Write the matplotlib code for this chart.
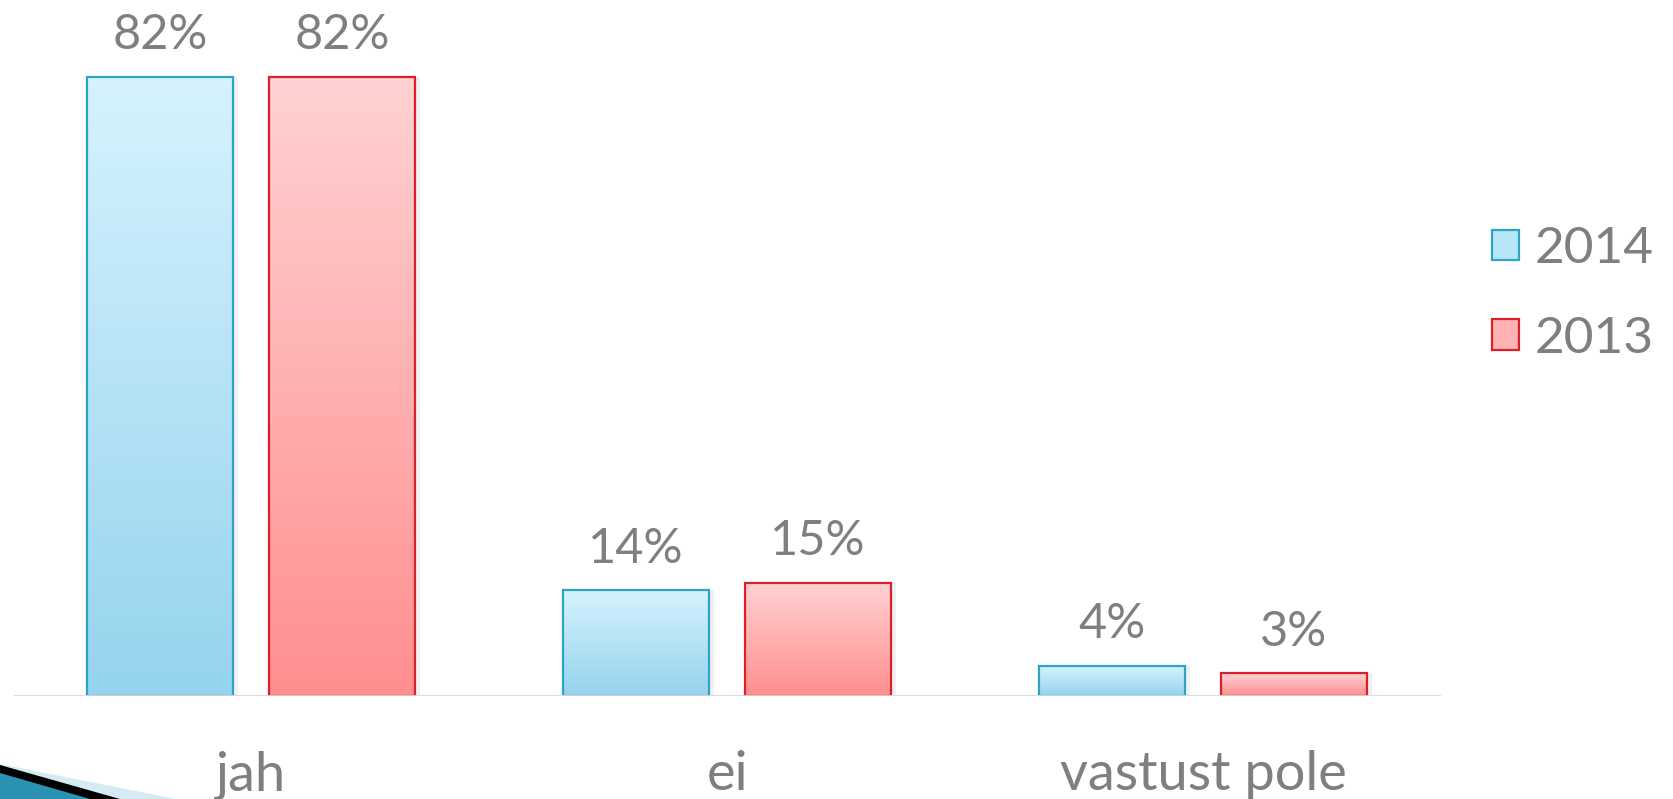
import matplotlib.pyplot as plt
import numpy as np
from matplotlib.colors import LinearSegmentedColormap
from matplotlib.patches import Patch, Polygon

# data
categories = ["jah", "ei", "vastust pole"]
series = ["2014", "2013"]
values_2014 = [82, 14, 4]
values_2013 = [82, 15, 3]

plt.rcParams['font.family'] = ['Lato', 'DejaVu Sans']
text_gray = "#7f7f7f"

# gradient colours (top, bottom) and edge colours
grad = {
    "2014": ("#d6f3fe", "#95d3ee"),
    "2013": ("#ffd2d3", "#ff8e8f"),
}
edges = {"2014": "#2fa3c4", "2013": "#dc1f2b"}

fig = plt.figure(figsize=(16.74, 7.99), dpi=100)
ax = fig.add_axes([0.0078, 0.1289, 0.853, 0.8504])

x = np.arange(len(categories))
width = 0.308
offset = 0.191

for vals, name, sign in [(values_2014, "2014", -1), (values_2013, "2013", 1)]:
    bars = ax.bar(x + sign * offset, vals, width, facecolor="none",
                  edgecolor=edges[name], linewidth=1.6, zorder=3)
    cmap = LinearSegmentedColormap.from_list(name, [grad[name][1], grad[name][0]])
    for b, v in zip(bars, vals):
        x0, y0 = b.get_x(), b.get_y()
        w, h = b.get_width(), b.get_height()
        # soft shadow
        ax.bar(x0 + w / 2 + 0.004, h, w + 0.012, bottom=0, color="#000000",
               alpha=0.06, linewidth=0, zorder=1)
        g = np.linspace(0, 1, 256).reshape(-1, 1)
        im = ax.imshow(g, cmap=cmap, origin="lower", aspect="auto",
                       extent=[x0, x0 + w, y0, y0 + h], zorder=2)
        im.set_clip_path(b)
        ax.text(x0 + w / 2, v + 2.6, f"{v}%", ha="center", va="bottom",
                fontsize=35, color=text_gray)

ax.set_xlim(-0.5, 2.5)
ax.set_ylim(0, 90)
ax.axhline(0, color="#d9d9d9", linewidth=2, zorder=4)
for s in ax.spines.values():
    s.set_visible(False)
ax.set_yticks([])
ax.set_xticks(x)
ax.set_xticklabels(categories, fontsize=39, color=text_gray)
ax.tick_params(axis="x", length=0, pad=39)

handles = [Patch(facecolor="#b9e5f8", edgecolor=edges["2014"], linewidth=1.6, label="2014"),
           Patch(facecolor="#ffb3b4", edgecolor=edges["2013"], linewidth=1.6, label="2013")]
leg = fig.legend(handles=handles, loc="center left", bbox_to_anchor=(0.891, 0.632),
                 frameon=False, fontsize=37, handlelength=0.54, handleheight=0.54,
                 handletextpad=0.3, labelspacing=0.85, borderpad=0, borderaxespad=0)
for t in leg.get_texts():
    t.set_color(text_gray)

# slide decoration in the bottom left corner
H = 799.0
def fp(px, py):
    return (px / 1674.0, 1 - py / H)

fig.patches.append(Polygon([fp(0, 764), fp(176, 799), fp(0, 799)], closed=True,
                           facecolor="#d5ebf3", edgecolor="none", transform=fig.transFigure))
fig.patches.append(Polygon([fp(0, 765), fp(120, 799), fp(0, 799)], closed=True,
                           facecolor="#000000", edgecolor="none", transform=fig.transFigure))
fig.patches.append(Polygon([fp(0, 773), fp(90, 799), fp(0, 799)], closed=True,
                           facecolor="#2a93b3", edgecolor="none", transform=fig.transFigure))

fig.savefig("out.png", dpi=100)
